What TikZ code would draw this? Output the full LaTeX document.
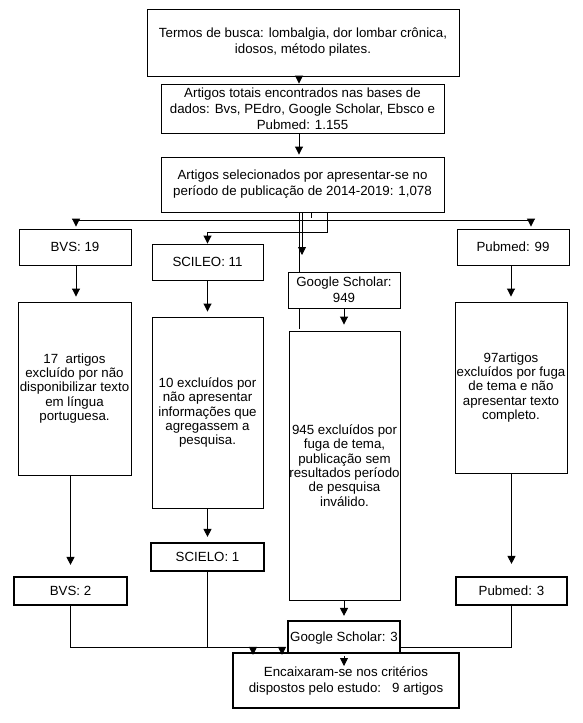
\documentclass[tikz,border=0pt]{standalone}
\usepackage{fontspec}
\setmainfont{Liberation Sans}
\usetikzlibrary{arrows.meta}
\pgfdeclarelayer{background}
\pgfsetlayers{background,main}

\tikzset{
  box/.style={draw, fill=white, align=center, inner sep=0pt, line width=0.9pt,
    font=\fontsize{13.3}{16}\selectfont},
  tallbox/.style={box, minimum width=112pt, font=\fontsize{13.3}{14.3}\selectfont},
  smallbox/.style={box, minimum width=112pt, minimum height=36pt},
  endbox/.style={box, line width=2.2pt, minimum width=112pt, minimum height=28pt},
  link/.style={line width=0.9pt, shorten >=2pt},
}

\begin{document}
\begin{tikzpicture}[x=1pt, y=-1pt, >={Triangle[width=8pt,length=8pt]}]
\useasboundingbox (0,0) rectangle (582,723);

% search and selection
\node[box, minimum width=312pt, minimum height=67pt] (terms) at (303,42.5)
  {Termos de busca: lombalgia, dor lombar crônica,\\idosos, método pilates.};
\node[box, minimum width=283pt, minimum height=49pt] (total) at (302.5,108.5)
  {Artigos totais encontrados nas bases de\\dados: Bvs, PEdro, Google Scholar, Ebsco e\\Pubmed: 1.155};
\node[box, minimum width=283pt, minimum height=55pt] (sel) at (302.5,184.5)
  {Artigos selecionados por apresentar-se no\\período de publicação de 2014-2019: 1,078};

% one column per base
\node[smallbox] (bvsa) at (75,247) {BVS: 19};
\node[smallbox, minimum width=111pt] (scia) at (207.5,262) {SCILEO: 11};
\node[smallbox] (gsa) at (344,290) {Google Scholar:\\949};
\node[smallbox] (pma) at (513,247) {Pubmed: 99};

\node[tallbox, minimum width=113pt, minimum height=173pt] (bvsb) at (74.5,388.5)
  {17\ \ artigos\\excluído por não\\disponibilizar texto\\em língua\\portuguesa.};
\node[tallbox, minimum width=111pt, minimum height=191pt] (scib) at (207.5,412.5)
  {10 excluídos por\\não apresentar\\informações que\\agregassem a\\pesquisa.};
\node[tallbox, minimum width=111pt, minimum height=269pt] (gsb) at (344.5,465.5)
  {945 excluídos por\\fuga de tema,\\publicação sem\\resultados período\\de pesquisa\\inválido.};
\node[tallbox, minimum height=171pt] (pmb) at (511,387.5)
  {97artigos\\excluídos por fuga\\de tema e não\\apresentar texto\\completo.};

\node[endbox, minimum width=113pt] (bvsc) at (70.5,591) {BVS: 2};
\node[endbox, minimum width=113pt] (scic) at (207.5,557) {SCIELO: 1};
\node[endbox, minimum height=34pt] (gsc) at (344,638) {Google Scholar: 3};
\node[endbox, minimum width=111pt] (pmc) at (511.5,591) {Pubmed: 3};

% result
\node[box, line width=2.2pt, minimum width=226pt, minimum height=55pt] (final) at (346,680.5)
  {Encaixaram-se nos critérios\\dispostos pelo estudo:\ \ \ 9 artigos};

\coordinate (axis) at (299,0);
\coordinate (split) at (311,220);
\coordinate (gsin) at (302,255);
\coordinate (jl) at (253,647);
\coordinate (jm) at (282,647);
\coordinate (jr) at (380,647);
\coordinate (finin) at (344,666);

% arrows
\draw[link,->, shorten >=0pt] (terms.south -| axis) -- (total.north -| axis);
\draw[link,->] (total.south -| axis) -- (sel.north -| axis);
\draw[link] (sel.south -| split) -- (split);
\draw[link,->] (split) -| ([xshift=1pt]bvsa.north);
\draw[link,->] (split) -| ([xshift=18pt]pma.north);
\draw[link,->, shorten >=0pt] ([xshift=24.5pt]sel.south) |- ([yshift=11pt]scia.north) -- (scia.north);
\draw[link,->, shorten >=0pt] (sel.south -| gsin) -- (gsin);
\begin{pgfonlayer}{background}
\draw[link] (sel.south -| axis) -- (gsb.north -| axis);
\draw[link,->] (pmc.south) |- (jr) -- (jr |- final.north);
\end{pgfonlayer}

\draw[link,->, shorten >=5pt] ([xshift=1pt]bvsa.south) -- ([xshift=1pt]bvsa.south |- bvsb.north);
\draw[link,->, shorten >=5pt] (scia) -- (scib);
\draw[link,->, shorten >=6pt] (gsa) -- (gsa |- gsb.north);
\draw[link,->, shorten >=5pt] (pma.south -| pmb) -- (pmb.north);

\draw[link,->, shorten >=11pt] (bvsb.south -| bvsc) -- (bvsc.north);
\draw[link,->, shorten >=5pt] (scib) -- (scic);
\draw[link,->, shorten >=4pt] (gsb.south -| gsc) -- (gsc.north);
\draw[link,->, shorten >=12pt] (pmb.south -| pmc) -- (pmc.north);

\draw[link,->, shorten >=-3pt] (bvsc.south) |- (jl) -- (jl |- final.north);
\draw[link,->, shorten >=-3pt] (scic.south) |- (jm) -- (jm |- final.north);
\draw[link,->, shorten >=0pt] (gsc.south) -- (finin);

\end{tikzpicture}
\end{document}
